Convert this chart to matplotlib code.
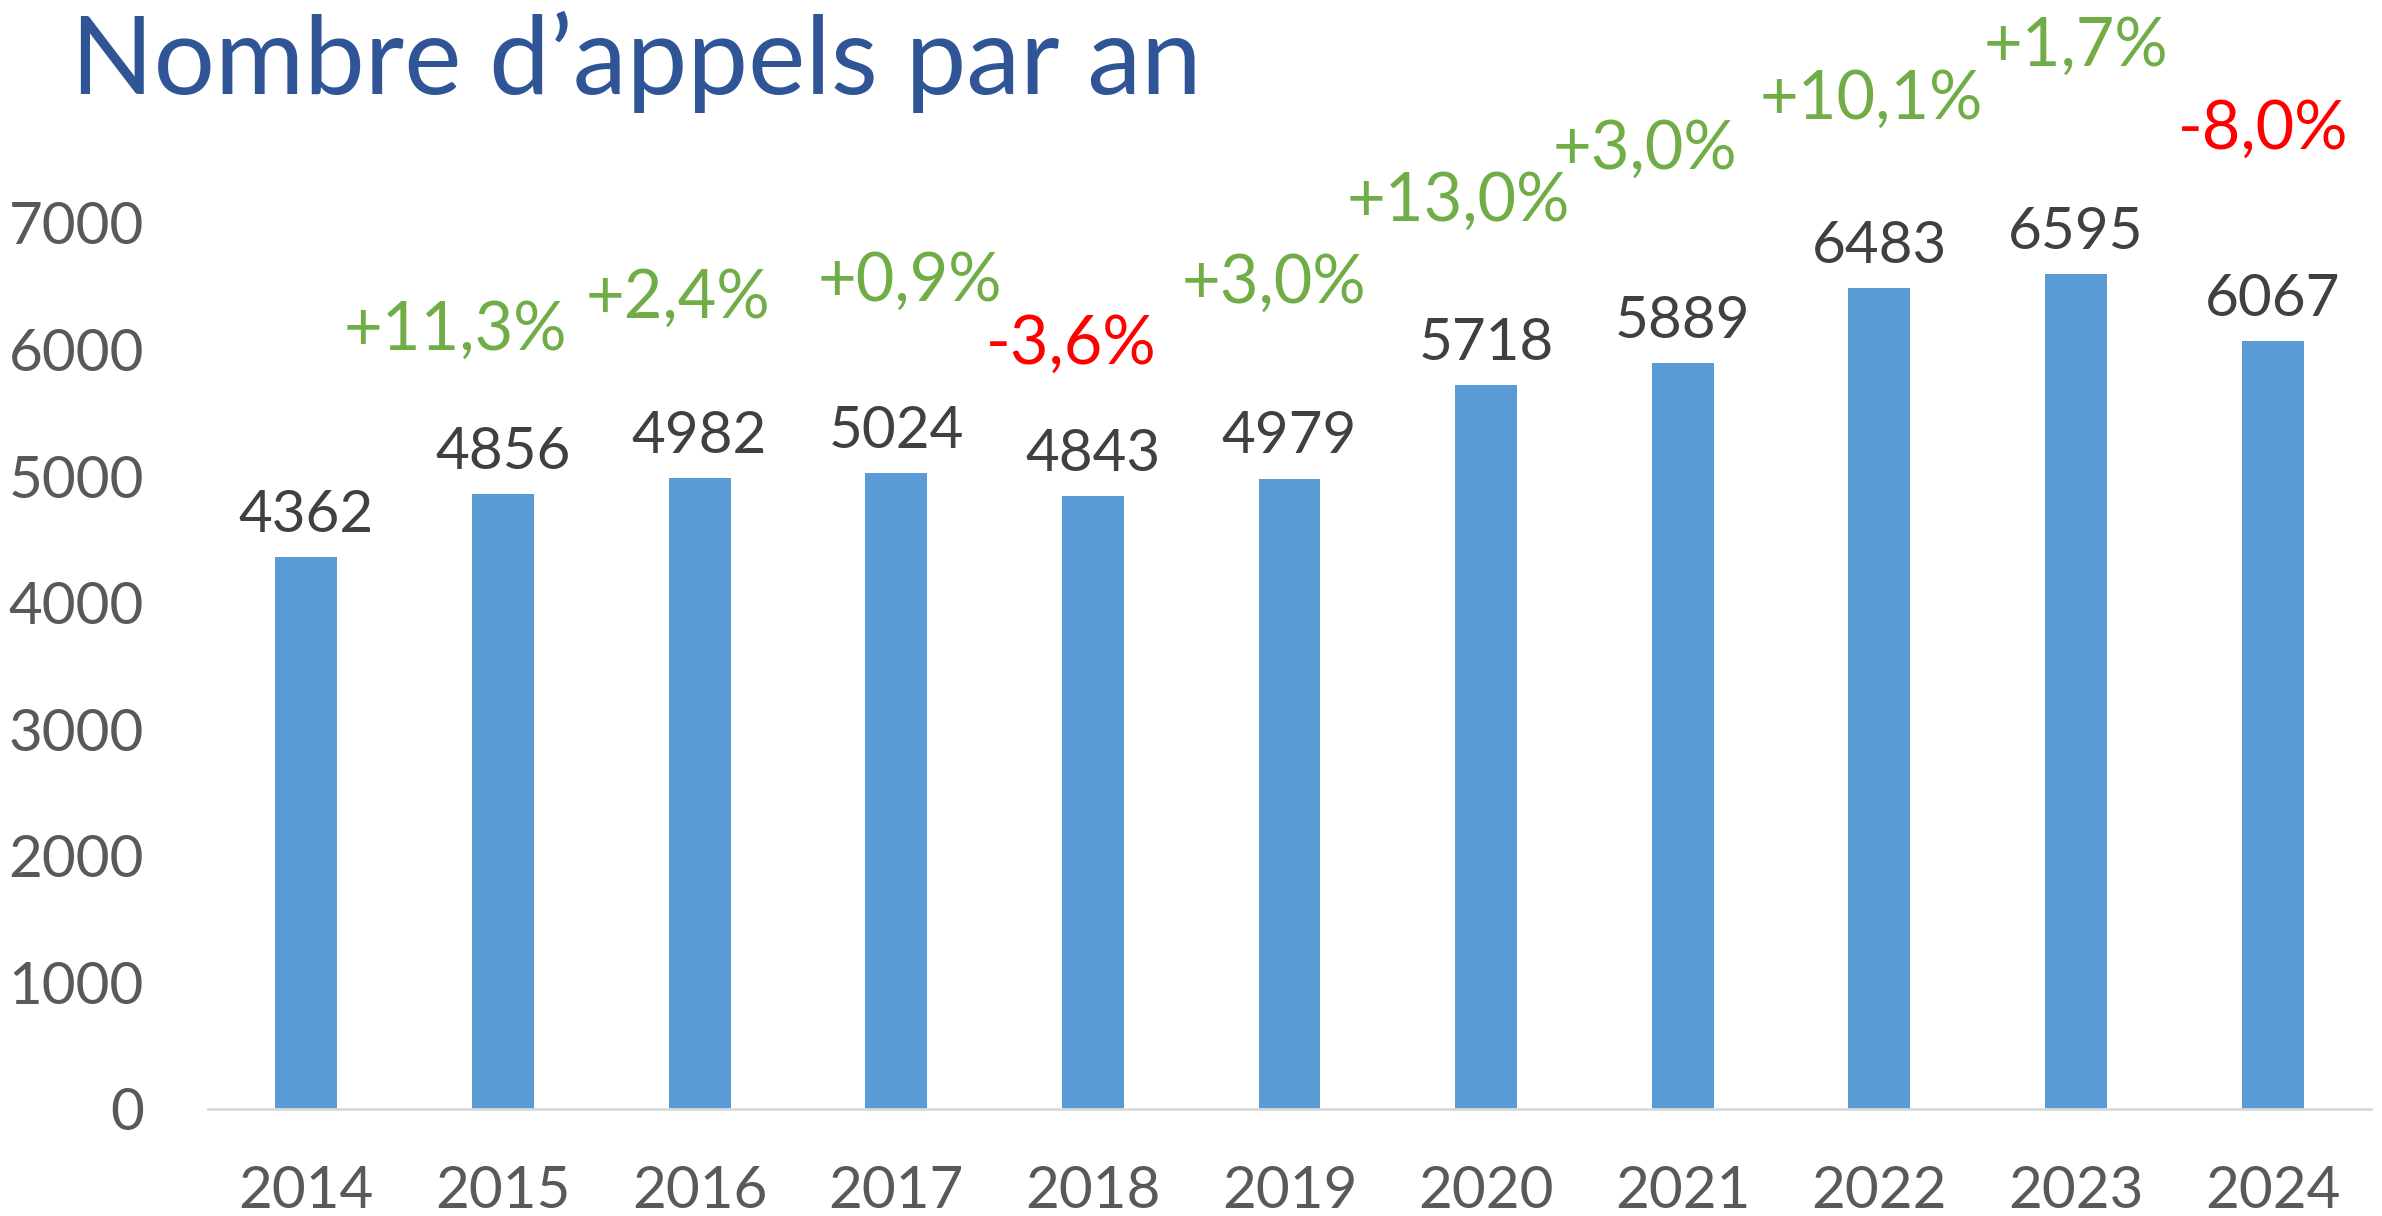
import matplotlib.pyplot as plt
import numpy as np

years = ['2014', '2015', '2016', '2017', '2018', '2019', '2020', '2021', '2022', '2023', '2024']
calls = [4362, 4856, 4982, 5024, 4843, 4979, 5718, 5889, 6483, 6595, 6067]
pct_labels = ['+11,3%', '+2,4%', '+0,9%', '-3,6%', '+3,0%', '+13,0%', '+3,0%', '+10,1%', '+1,7%', '-8,0%']

# where the percentage labels sit (x in category units, y in data units)
pct_x = [0.76, 1.89, 3.07, 3.89, 4.92, 5.86, 6.81, 7.96, 9.0, 9.95]
pct_y = [6147, 6400, 6532, 6039, 6519, 7168, 7576, 7972, 8393, 7733]

plt.rcParams['font.family'] = ['Lato', 'DejaVu Sans']

fig = plt.figure(figsize=(23.82, 12.16), dpi=100)
ax = fig.add_axes([0.0873, 0.088, 0.9081, 0.8849])

x = np.arange(len(years))
ax.bar(x, calls, width=0.315, color='#5B9BD5', zorder=2)

for xi, v in zip(x, calls):
    ax.text(xi, v + 120, str(v), ha='center', va='bottom', fontsize=42, color='#404040')

for xi, yi, lab in zip(pct_x, pct_y, pct_labels):
    col = '#FF0000' if lab.startswith('-') else '#70AD47'
    ax.text(xi, yi, lab, ha='center', va='center', fontsize=48, color=col)

ax.set_xlim(-0.5, 10.5)
ax.set_ylim(0, 8500)
ax.set_yticks(range(0, 7001, 1000))
ax.set_xticks(x)
ax.set_xticklabels(years)
ax.tick_params(axis='y', length=0, pad=46, labelsize=42, labelcolor='#595959')
ax.tick_params(axis='x', length=0, pad=40, labelsize=42, labelcolor='#595959')

for s in ['top', 'right', 'left']:
    ax.spines[s].set_visible(False)
ax.spines['bottom'].set_color('#D9D9D9')
ax.spines['bottom'].set_linewidth(2)

fig.text(0.0298, 0.923, 'Nombre d\u2019appels par an', fontsize=78,
         color='#2F5597', ha='left', va='baseline')

fig.savefig('out.png', dpi=100)
